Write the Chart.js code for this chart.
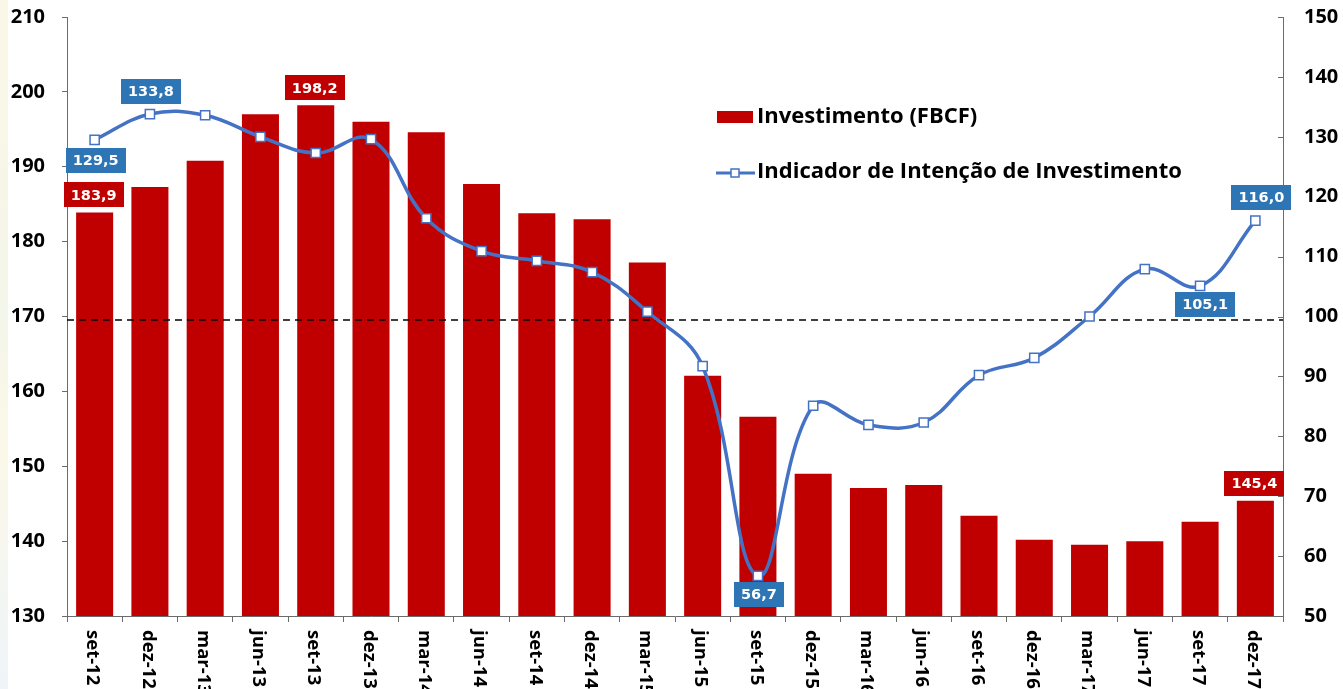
<!DOCTYPE html>
<html>
<head>
<meta charset="utf-8">
<script src="https://cdn.jsdelivr.net/npm/chart.js@4/dist/chart.umd.min.js"></script>
<style>
body { margin: 0; background: #fff; }
#wrap { position: relative; width: 1343px; height: 689px; }
#strip { position: absolute; left: 0; top: 0; width: 8px; height: 689px;
  background: linear-gradient(#fbf7e6, #f3f6ea 45%, #fbf8e8 65%, #eef4f9); }
canvas { position: absolute; left: 0; top: 0; }
</style>
</head>
<body>
<div id="wrap"><div id="strip"></div><canvas id="myChart" width="1343" height="689"></canvas></div>
<script>
var quarters = ['set-12', 'dez-12', 'mar-13', 'jun-13', 'set-13', 'dez-13', 'mar-14', 'jun-14',
  'set-14', 'dez-14', 'mar-15', 'jun-15', 'set-15', 'dez-15', 'mar-16', 'jun-16',
  'set-16', 'dez-16', 'mar-17', 'jun-17', 'set-17', 'dez-17'];

// Investimento (FBCF) - eixo esquerdo
var fbcf = [183.9, 187.3, 190.8, 197.0, 198.2, 196.0, 194.6, 187.7,
  183.8, 183.0, 177.2, 162.1, 156.6, 149.0, 147.1, 147.5,
  143.4, 140.2, 139.5, 140.0, 142.6, 145.4];

// Indicador de Intenção de Investimento - eixo direito
var intencao = [129.5, 133.8, 133.6, 130.0, 127.3, 129.6, 116.4, 110.9,
  109.3, 107.4, 100.8, 91.7, 56.7, 85.1, 81.9, 82.3,
  90.2, 93.1, 100.0, 107.9, 105.1, 116.0];

var linhaRef = 99.4;

// rótulos visíveis
var fbcfLabels = [0, 4, 21];
var intencaoLabels = [0, 1, 12, 20, 21];

var RED = '#C00000';
var BLUE = '#4472C4';
var BOXBLUE = '#2E75B6';
var AXIS = '#6b6b6b';

function fmt(v) { return v.toFixed(1).replace('.', ','); }

function drawBox(ctx, text, cx, y, color, above) {
  ctx.font = 'bold 14.5px "DejaVu Sans"';
  var w = ctx.measureText(text).width + 14;
  var h = 25;
  var top = above ? y - h : y;
  ctx.fillStyle = color;
  ctx.fillRect(Math.round(cx - w / 2), Math.round(top), Math.round(w), h);
  ctx.fillStyle = '#fff';
  ctx.textAlign = 'center';
  ctx.textBaseline = 'middle';
  ctx.fillText(text, cx, top + h / 2 + 1);
}

var linePos = {
  0: { above: false, dx: 1, gap: 8 },
  1: { above: true, dx: 1, gap: 10 },
  12: { above: false, dx: 1, gap: 6 },
  20: { above: false, dx: 5, gap: 6 },
  21: { above: true, dx: 6, gap: 11 }
};

function fixY(width) {
  return function (s) {
    s.width = width;
    s.paddingTop = 0;
    s.paddingBottom = 0;
  };
}

var extras = {
  id: 'extras',
  afterDatasetDraw: function (chart, args) {
    if (args.index !== 0) return;
    var ctx = chart.ctx, a = chart.chartArea;
    var y = chart.scales.y1.getPixelForValue(linhaRef);
    ctx.save();
    ctx.strokeStyle = '#000';
    ctx.lineWidth = 1.5;
    ctx.setLineDash([7, 5]);
    ctx.beginPath();
    ctx.moveTo(a.left, y);
    ctx.lineTo(a.right, y);
    ctx.stroke();
    ctx.restore();
  },
  afterDraw: function (chart) {
    var ctx = chart.ctx, a = chart.chartArea;
    var xs = chart.scales.x, y1 = chart.scales.y1;
    ctx.save();

    // ticks internos do eixo direito
    ctx.strokeStyle = AXIS;
    ctx.lineWidth = 1;
    y1.ticks.forEach(function (t) {
      var y = Math.round(y1.getPixelForValue(t.value)) + 0.5;
      ctx.beginPath();
      ctx.moveTo(a.right - 5, y);
      ctx.lineTo(a.right, y);
      ctx.stroke();
    });

    // rótulos do eixo x, verticais
    ctx.fillStyle = '#000';
    ctx.font = 'bold 18.5px "Open Sans"';
    ctx.textAlign = 'left';
    ctx.textBaseline = 'middle';
    quarters.forEach(function (q, i) {
      ctx.save();
      ctx.translate(xs.getPixelForValue(i) - 2, a.bottom + 14);
      ctx.rotate(Math.PI / 2);
      ctx.fillText(q, 0, 0);
      ctx.restore();
    });

    // rótulos de dados
    var bars = chart.getDatasetMeta(0).data;
    fbcfLabels.forEach(function (i) {
      drawBox(ctx, fmt(fbcf[i]), bars[i].x - 1, bars[i].y - 5, RED, true);
    });
    var pts = chart.getDatasetMeta(1).data;
    intencaoLabels.forEach(function (i) {
      var p = linePos[i];
      var y = p.above ? pts[i].y - p.gap : pts[i].y + p.gap;
      drawBox(ctx, fmt(intencao[i]), pts[i].x + p.dx, y, BOXBLUE, p.above);
    });

    // legenda
    ctx.fillStyle = RED;
    ctx.fillRect(717, 111, 36, 12);
    ctx.strokeStyle = BLUE;
    ctx.lineWidth = 3;
    ctx.beginPath();
    ctx.moveTo(716, 173);
    ctx.lineTo(755, 173);
    ctx.stroke();
    ctx.fillStyle = '#fff';
    ctx.lineWidth = 1.5;
    ctx.fillRect(731, 169, 8, 8);
    ctx.strokeRect(731, 169, 8, 8);
    ctx.fillStyle = '#000';
    ctx.font = 'bold 22px "Open Sans"';
    ctx.textAlign = 'left';
    ctx.textBaseline = 'middle';
    ctx.fillText('Investimento (FBCF)', 757, 117);
    ctx.fillText('Indicador de Intenção de Investimento', 757, 172);
    ctx.restore();
  }
};

var ctx = document.getElementById('myChart');

var myChart = new Chart(ctx, {
  type: 'bar',
  data: {
    labels: quarters,
    datasets: [
      {
        label: 'Investimento (FBCF)',
        data: fbcf,
        backgroundColor: RED,
        barPercentage: 0.67,
        categoryPercentage: 1,
        yAxisID: 'y',
        order: 1
      },
      {
        type: 'line',
        label: 'Indicador de Intenção de Investimento',
        data: intencao,
        borderColor: BLUE,
        borderWidth: 3.5,
        tension: 0.4,
        pointStyle: 'rect',
        pointRadius: 6.5,
        pointBackgroundColor: '#fff',
        pointBorderColor: BLUE,
        pointBorderWidth: 1.5,
        yAxisID: 'y1',
        order: 0
      }
    ]
  },
  options: {
    responsive: false,
    animation: false,
    layout: { padding: { top: 17, left: 0, right: 0, bottom: 0 } },
    plugins: {
      legend: { display: false },
      tooltip: { enabled: false }
    },
    scales: {
      x: {
        grid: { offset: true, drawOnChartArea: false, tickLength: 6, color: AXIS },
        border: { color: AXIS },
        ticks: { display: false },
        afterFit: function (s) { s.height = 73; }
      },
      y: {
        position: 'left',
        min: 130,
        max: 210,
        grid: { drawOnChartArea: false, tickLength: 5, color: AXIS },
        border: { color: AXIS },
        ticks: {
          stepSize: 10,
          padding: 17,
          color: '#000',
          font: { family: 'Open Sans', size: 20, weight: 'bold' }
        },
        afterFit: fixY(67)
      },
      y1: {
        position: 'right',
        min: 50,
        max: 150,
        grid: { drawOnChartArea: false, drawTicks: false },
        border: { color: AXIS },
        ticks: {
          stepSize: 10,
          padding: 21,
          color: '#000',
          font: { family: 'Open Sans', size: 20, weight: 'bold' }
        },
        afterFit: fixY(60)
      }
    }
  },
  plugins: [extras]
});
</script>
</body>
</html>
